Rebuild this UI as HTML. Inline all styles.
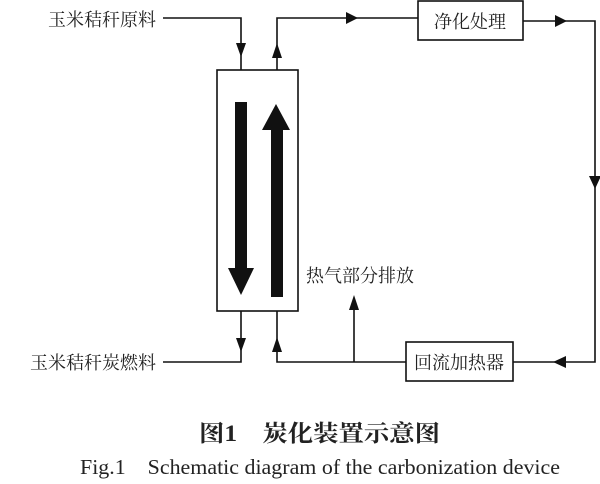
<!DOCTYPE html>
<html><head><meta charset="utf-8"><style>
html,body{margin:0;padding:0;background:#fff;}
body{width:600px;height:484px;overflow:hidden;position:relative;}
svg{position:absolute;left:0;top:0;}
text{font-family:"Liberation Serif","Noto Serif CJK SC",serif;fill:#222;}
</style></head><body>
<svg width="600" height="484" viewBox="0 0 600 484">
<g stroke="#111" stroke-width="1.6" fill="none">
<rect x="217" y="70" width="81" height="241"/>
<rect x="418" y="1" width="105" height="39"/>
<rect x="406" y="342" width="107" height="39"/>
<polyline points="163,18 241,18 241,70"/>
<polyline points="277,70 277,18 418,18"/>
<polyline points="523,21 595,21 595,362 513,362"/>
<polyline points="241,311 241,362 163,362"/>
<polyline points="406,362 277,362 277,311"/>
<line x1="354" y1="362" x2="354" y2="305"/>
</g>
<g fill="#111">
<polygon points="236,43 246,43 241,57"/>
<polygon points="272,58 282,58 277,43"/>
<polygon points="346,12 358,18 346,24"/>
<polygon points="555,15 567,21 555,27"/>
<polygon points="589,176 601,176 595,189"/>
<polygon points="566,356 566,368 553,362"/>
<polygon points="236,338 246,338 241,352"/>
<polygon points="272,352 282,352 277,337"/>
<polygon points="349,310 359,310 354,295"/>
<rect x="235" y="102" width="12" height="167"/>
<polygon points="228,268 254,268 241,295"/>
<rect x="271" y="130" width="12" height="167"/>
<polygon points="262,130 290,130 276,104"/>
</g>
<g font-size="18">
<text x="48" y="26">玉米秸秆原料</text>
<text x="30" y="369">玉米秸秆炭燃料</text>
<text x="434" y="28">净化处理</text>
<text x="414" y="369">回流加热器</text>
<text x="306" y="282">热气部分排放</text>
</g>
<text x="199" y="441" font-size="23" font-weight="bold" textLength="241" lengthAdjust="spacingAndGlyphs">图1　炭化装置示意图</text>
<text x="80" y="474" font-size="21" textLength="480" lengthAdjust="spacingAndGlyphs">Fig.1　Schematic diagram of the carbonization device</text>
</svg>
</body></html>
